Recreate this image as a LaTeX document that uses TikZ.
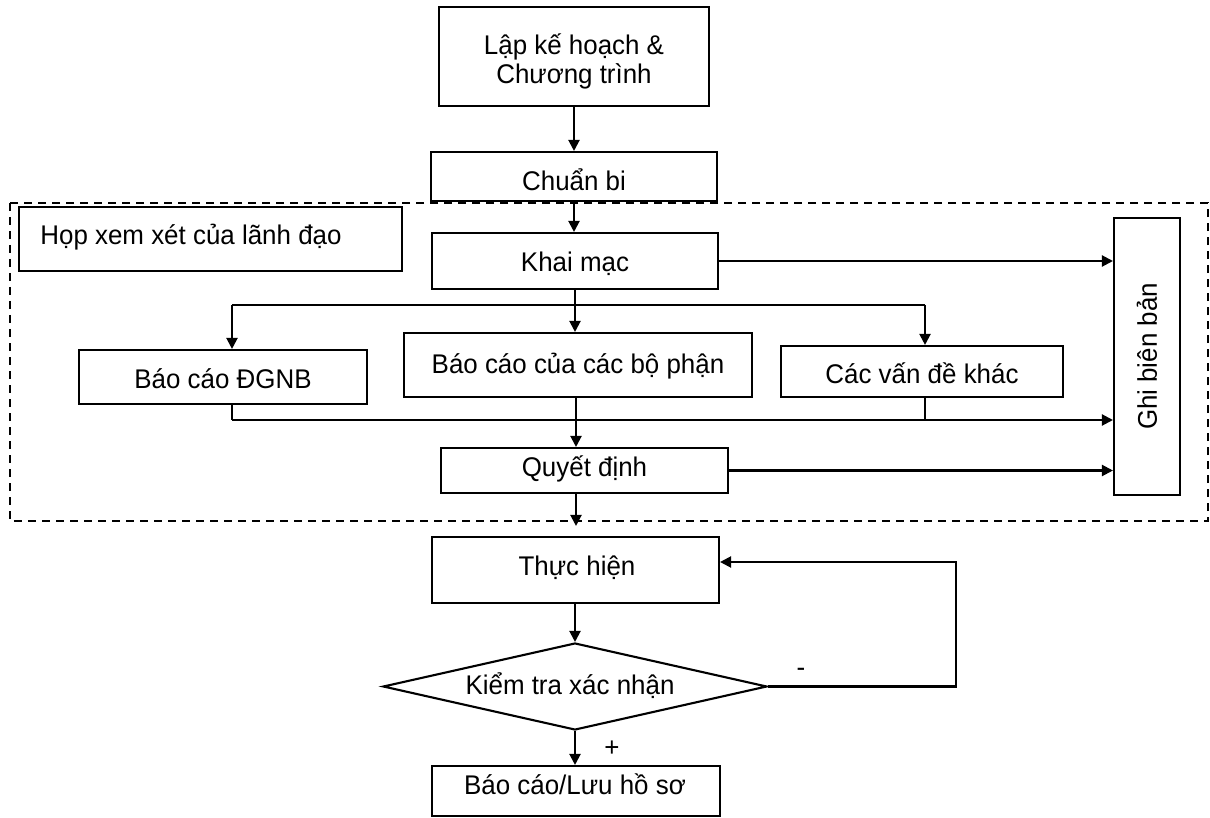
\documentclass[tikz,border=0pt]{standalone}
\usepackage{fontspec}
\setmainfont{Liberation Sans}[FakeStretch=0.96]
\usetikzlibrary{arrows.meta,shapes.geometric}
\tikzset{
  box/.style={draw, line width=1.05pt, inner sep=0pt, rectangle},
  lbl/.style={inner sep=0pt, anchor=base, font=\fontsize{13.5}{14}\selectfont},
  conn/.style={line width=1.05pt},
  arr/.style={conn, -{Triangle[length=5.5pt,width=5.5pt]}},
  frame/.style={line width=1.05pt, dash pattern=on 4pt off 3pt}
}
\begin{document}
\begin{tikzpicture}[x=0.5pt,y=-0.5pt]
\useasboundingbox[fill=white] (0,0) rectangle (1210,818);

% dashed frame
\draw[frame] (10,203) rectangle (1208,521);

% boxes
\node[box, minimum width=135pt, minimum height=49.5pt] (plan) at (574,56.5) {};
\node[box, minimum width=143pt, minimum height=24.5pt] (prep) at (574,176.5) {};
\node[box, minimum width=191.5pt, minimum height=32pt] (meet) at (210.5,239) {};
\node[box, minimum width=143pt, minimum height=28pt] (open) at (575,261) {};
\node[box, minimum width=144pt, minimum height=27pt] (dgnb) at (223,377) {};
\node[box, minimum width=174pt, minimum height=32pt] (dept) at (578,365) {};
\node[box, minimum width=141pt, minimum height=25.5pt] (other) at (922,371.5) {};
\node[box, minimum width=143.5pt, minimum height=22.5pt] (dec) at (584.5,470.5) {};
\node[box, minimum width=33pt, minimum height=138.5pt] (rec) at (1147,356.5) {};
\node[box, minimum width=143.5pt, minimum height=33pt] (impl) at (575.5,570) {};
\node[draw, line width=1.05pt, diamond, inner sep=0pt, minimum width=192pt, minimum height=43.5pt] (check) at (575,686.5) {};
\node[box, minimum width=144pt, minimum height=25pt] (save) at (576,791) {};

% texts
\node[lbl, align=center] (tplan) at (574,84) {Lập kế hoạch \&\\[0.5pt]Chương trình};
\node[lbl] (tprep) at (574,191) {Chuẩn bi};
\node[lbl, anchor=base west] (tmeet) at (40,245) {Họp xem xét của lãnh đạo};
\node[lbl] (topen) at (575,271) {Khai mạc};
\node[lbl] (tdgnb) at (223,388) {Báo cáo ĐGNB};
\node[lbl] (tdept) at (578,373) {Báo cáo của các bộ phận};
\node[lbl] (tother) at (922,383) {Các vấn đề khác};
\node[lbl] (tdec) at (584.5,476) {Quyết định};
\node[lbl, rotate=90, anchor=center] (trec) at (1147,356.5) {Ghi biên bản};
\node[lbl] (timpl) at (577,575) {Thực hiện};
\node[lbl] (tcheck) at (570,694) {Kiểm tra xác nhận};
\node[lbl] (tsave) at (575,794) {Báo cáo/Lưu hồ sơ};
\node[lbl, anchor=center] (plus) at (612,749) {+};
\node[lbl, anchor=center] (minus) at (801,672) {-};

% helper coordinates
\coordinate (split) at (575,305);
\coordinate (sl) at (232,305);
\coordinate (sr) at (925,305);
\coordinate (jl) at (232,420);
\coordinate (jm) at (576,420);
\coordinate (jr) at (925,420);
\coordinate (fb) at (956,562);

% connectors
\draw[arr] (plan.south) -- (prep.north);
\draw[arr] (prep.south) -- (prep.south |- open.north);
\draw[arr] (open.east) -- (open.east -| rec.west);
\draw[conn] (split |- open.south) -- (split);
\draw[conn] (sl) -- (sr);
\draw[arr] (sl) -- (sl |- dgnb.north);
\draw[arr] (split) -- (split |- dept.north);
\draw[arr] (sr) -- (sr |- other.north);
\draw[conn] (jl |- dgnb.south) -- (jl);
\draw[conn] (jr |- other.south) -- (jr);
\draw[arr] (jl) -- (jl -| rec.west);
\draw[arr] (jm |- dept.south) -- (jm |- dec.north);
\draw[arr] (dec.east) -- (dec.east -| rec.west);
\draw[arr, shorten >=5pt] (jm |- dec.south) -- (jm |- impl.north);
\draw[arr] (impl.south -| check.north) -- (check.north);
\draw[arr] (check.south) -- (check.south |- save.north);
\draw[arr] (check.east) -| (fb) -- (fb -| impl.east);
\end{tikzpicture}
\end{document}
